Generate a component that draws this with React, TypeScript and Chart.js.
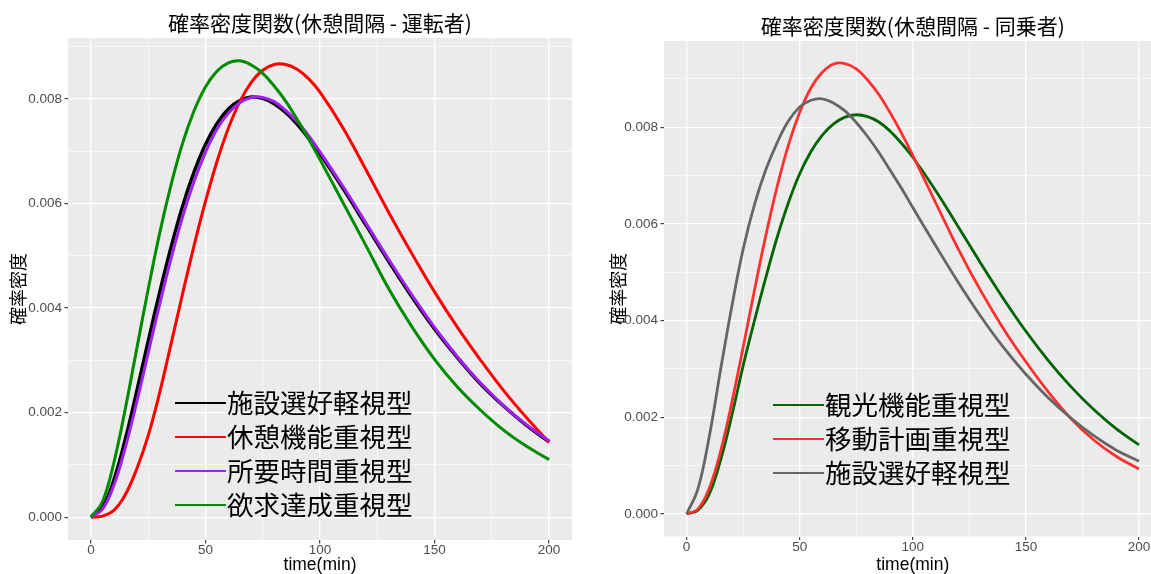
import { useEffect, useRef } from "react";
import { Chart, registerables } from "chart.js";

Chart.register(...registerables);

// Time axis (minutes) shared by every density series
const TIMES = [0, 5, 10, 15, 20, 25, 30, 35, 40, 45, 50, 55, 60, 65, 70, 75, 80, 85, 90, 95, 100, 110, 120, 130, 140, 150, 160, 170, 180, 190, 200];

// Driver (運転者) clusters
const DRIVER_NAMES = ["施設選好軽視型", "休憩機能重視型", "所要時間重視型", "欲求達成重視型"];
const DRIVER_FACILITY = [0, 0.00018, 0.00071, 0.00149, 0.00241, 0.00337, 0.0043, 0.00517, 0.00595, 0.0066, 0.00713, 0.00753, 0.00781, 0.00797, 0.00804, 0.00801, 0.00791, 0.00774, 0.00752, 0.00725, 0.00695, 0.00629, 0.00559, 0.00489, 0.00422, 0.0036, 0.00305, 0.00255, 0.00213, 0.00176, 0.00144];
const DRIVER_REST = [0, 0.00002, 0.00013, 0.00043, 0.00092, 0.00156, 0.00238, 0.00332, 0.00427, 0.00519, 0.00604, 0.0068, 0.00744, 0.00795, 0.00832, 0.00855, 0.00866, 0.00866, 0.00857, 0.00839, 0.00813, 0.00745, 0.00665, 0.00583, 0.00505, 0.00431, 0.00363, 0.00301, 0.00243, 0.00191, 0.00143];
const DRIVER_TIME = [0, 0.00015, 0.00061, 0.00133, 0.0022, 0.00314, 0.00407, 0.00495, 0.00574, 0.00642, 0.00698, 0.00742, 0.00773, 0.00793, 0.00803, 0.00803, 0.00795, 0.00778, 0.00757, 0.0073, 0.00699, 0.00633, 0.00563, 0.00493, 0.00426, 0.00363, 0.00307, 0.00257, 0.00214, 0.00177, 0.00146];
const DRIVER_DESIRE = [0, 0.00029, 0.00104, 0.00207, 0.00322, 0.00436, 0.00543, 0.00636, 0.00715, 0.00777, 0.00823, 0.00853, 0.00869, 0.00873, 0.00865, 0.00849, 0.00825, 0.00796, 0.00761, 0.00724, 0.00684, 0.00602, 0.0052, 0.00437, 0.00365, 0.00302, 0.00249, 0.00205, 0.00167, 0.00136, 0.0011];

// Passenger (同乗者) clusters
const PASSENGER_NAMES = ["観光機能重視型", "移動計画重視型", "施設選好軽視型"];
const PASSENGER_SIGHTSEEING = [0, 0.00008, 0.00041, 0.00111, 0.00204, 0.00307, 0.004, 0.00489, 0.00572, 0.00644, 0.00704, 0.0075, 0.00784, 0.00807, 0.00821, 0.00826, 0.00822, 0.00811, 0.00792, 0.00767, 0.00738, 0.0067, 0.00595, 0.00519, 0.00446, 0.00378, 0.00317, 0.00263, 0.00216, 0.00176, 0.00143];
const PASSENGER_PLAN = [0, 0.0001, 0.00053, 0.00129, 0.00231, 0.00345, 0.00463, 0.00576, 0.00677, 0.00763, 0.00831, 0.00882, 0.00914, 0.00931, 0.00932, 0.00921, 0.00898, 0.00868, 0.0083, 0.00788, 0.00742, 0.00645, 0.00549, 0.00462, 0.00384, 0.00315, 0.00252, 0.00197, 0.00153, 0.00119, 0.00093];
const PASSENGER_FACILITY = [0, 0.00052, 0.0016, 0.00298, 0.0043, 0.00548, 0.0064, 0.00712, 0.00768, 0.00813, 0.00842, 0.00856, 0.00859, 0.0085, 0.00834, 0.0081, 0.00781, 0.00748, 0.00711, 0.00674, 0.00634, 0.00556, 0.0048, 0.00409, 0.00345, 0.00289, 0.0024, 0.00198, 0.00162, 0.00132, 0.00109];

// Labelled ticks; minor grid lines sit halfway between them
const X_TICKS = [0, 50, 100, 150, 200];
const Y_TICKS = [0, 0.002, 0.004, 0.006, 0.008];

const CJK = "'Noto Sans CJK JP', 'Noto Sans', sans-serif";
const SANS = "'Liberation Sans', Arial, sans-serif";
const H = 574;

type PanelSpec = {
  title: string;
  names: string[];
  series: number[][];
  colors: string[];
  widths: number[];
  yMin: number;
  yMax: number;
  left: number;
  width: number;
  axisLeft: number;
  axisBottom: number;
  padRight: number;
  padTop: number;
  yTitlePad: number;
  legendDx: number;
  legendRow0: number;
  legendStep: number;
};

const withMinor = (major: number[], lo: number, hi: number) => {
  const step = major[1] - major[0];
  const out: number[] = [];
  const start = Math.ceil((lo - 1e-12) / (step / 2));
  const end = Math.floor((hi + 1e-12) / (step / 2));
  for (let k = start; k <= end; k++) out.push(+(k * step / 2).toFixed(6));
  return out;
};
const isMajor = (v: number, major: number[]) => major.some((m) => Math.abs(m - v) < 1e-9);

const PANELS: PanelSpec[] = [
  {
    title: "確率密度関数(休憩間隔 - 運転者)",
    names: DRIVER_NAMES,
    series: [DRIVER_FACILITY, DRIVER_REST, DRIVER_TIME, DRIVER_DESIRE],
    colors: ["#000000", "#FF0000", "#A020F0", "#008B00"],
    widths: [3.4, 3, 3, 3],
    yMin: -0.000437,
    yMax: 0.009167,
    left: 0,
    width: 580,
    axisLeft: 68,
    axisBottom: 34,
    padRight: 8,
    padTop: 38,
    yTitlePad: 7,
    legendDx: 107,
    legendRow0: 137,
    legendStep: 34,
  },
  {
    title: "確率密度関数(休憩間隔 - 同乗者)",
    names: PASSENGER_NAMES,
    series: [PASSENGER_SIGHTSEEING, PASSENGER_PLAN, PASSENGER_FACILITY],
    colors: ["#006400", "#FF3030", "#666666"],
    widths: [2.8, 2.8, 2.8],
    yMin: -0.000466,
    yMax: 0.009786,
    left: 580,
    width: 592,
    axisLeft: 84,
    axisBottom: 37.5,
    padRight: 10.4,
    padTop: 41,
    yTitlePad: 27,
    legendDx: 109,
    legendRow0: 131.5,
    legendStep: 34,
  },
];

function DensityPanel({ spec }: { spec: PanelSpec }) {
  const ref = useRef<HTMLCanvasElement>(null);

  useEffect(() => {
    const canvas = ref.current;
    if (!canvas) return;
    const n = spec.series.length;

    const decor = {
      id: "ggDecor",
      beforeDraw(chart: any) {
        const { ctx, chartArea: a } = chart;
        ctx.save();
        ctx.fillStyle = "#EBEBEB";
        ctx.fillRect(a.left, a.top, a.right - a.left, a.bottom - a.top);
        ctx.restore();
      },
      afterDraw(chart: any) {
        const { ctx, chartArea: a } = chart;
        ctx.save();
        ctx.fillStyle = "#000";
        ctx.textAlign = "center";
        ctx.textBaseline = "middle";
        ctx.font = `21px ${CJK}`;
        ctx.fillText(spec.title, (a.left + a.right) / 2, a.top - 15);

        ctx.textAlign = "left";
        ctx.font = `26.5px ${CJK}`;
        spec.names.forEach((name, i) => {
          const y = a.bottom - spec.legendRow0 + i * spec.legendStep;
          const x0 = a.left + spec.legendDx;
          ctx.strokeStyle = spec.colors[i];
          ctx.lineWidth = 2;
          ctx.beginPath();
          ctx.moveTo(x0, y);
          ctx.lineTo(x0 + 51, y);
          ctx.stroke();
          ctx.fillStyle = "#000";
          ctx.fillText(name, x0 + 52, y);
        });
        ctx.restore();
      },
    };

    const chart = new Chart(canvas, {
      type: "line",
      data: {
        datasets: spec.series.map((vals, i) => ({
          label: spec.names[i],
          data: TIMES.map((t, j) => ({ x: t, y: vals[j] })),
          borderColor: spec.colors[i],
          backgroundColor: spec.colors[i],
          borderWidth: spec.widths[i],
          pointRadius: 0,
          fill: false,
          tension: 0.4,
          borderJoinStyle: "round" as const,
          order: n - i,
        })),
      },
      options: {
        responsive: false,
        animation: false,
        devicePixelRatio: 1,
        layout: { padding: { left: 0, right: spec.padRight, top: spec.padTop, bottom: 0 } },
        plugins: { legend: { display: false }, tooltip: { enabled: false }, title: { display: false } },
        scales: {
          x: {
            type: "linear",
            min: -10,
            max: 210,
            border: { display: false },
            afterBuildTicks: (s: any) => {
              s.ticks = withMinor(X_TICKS, -10, 210).map((v) => ({ value: v }));
            },
            afterFit: (s: any) => {
              s.height = spec.axisBottom;
            },
            grid: {
              color: "#FFFFFF",
              lineWidth: (c: any) => (isMajor(c.tick.value, X_TICKS) ? 1.3 : 0.6),
              tickColor: (c: any) => (isMajor(c.tick.value, X_TICKS) ? "#333333" : "rgba(0,0,0,0)"),
              tickWidth: 1.1,
              tickLength: 3.5,
            },
            ticks: {
              autoSkip: false,
              maxRotation: 0,
              padding: -1,
              color: "#4D4D4D",
              font: { family: SANS, size: 13.5 },
              callback: (v: any) => (isMajor(Number(v), X_TICKS) ? String(v) : ""),
            },
            title: {
              display: true,
              text: "time(min)",
              color: "#000",
              font: { family: SANS, size: 17.5 },
              padding: { top: 0, bottom: -2 },
            },
          },
          y: {
            type: "linear",
            min: spec.yMin,
            max: spec.yMax,
            border: { display: false },
            afterBuildTicks: (s: any) => {
              s.ticks = withMinor(Y_TICKS, spec.yMin, spec.yMax).map((v) => ({ value: v }));
            },
            afterFit: (s: any) => {
              s.width = spec.axisLeft;
            },
            grid: {
              color: "#FFFFFF",
              lineWidth: (c: any) => (isMajor(c.tick.value, Y_TICKS) ? 1.3 : 0.6),
              tickColor: (c: any) => (isMajor(c.tick.value, Y_TICKS) ? "#333333" : "rgba(0,0,0,0)"),
              tickWidth: 1.1,
              tickLength: 3.5,
            },
            ticks: {
              autoSkip: false,
              padding: 2.5,
              color: "#4D4D4D",
              font: { family: SANS, size: 13.5 },
              callback: (v: any) => (isMajor(Number(v), Y_TICKS) ? Number(v).toFixed(3) : ""),
            },
            title: {
              display: true,
              text: "確率密度",
              color: "#000",
              font: { family: CJK, size: 18 },
              padding: { top: spec.yTitlePad, bottom: 0 },
            },
          },
        },
      },
      plugins: [decor],
    } as any);

    return () => chart.destroy();
  }, [spec]);

  return (
    <canvas
      ref={ref}
      width={spec.width}
      height={H}
      style={{ position: "absolute", left: spec.left, top: 0, width: spec.width, height: H }}
    />
  );
}

export default function App() {
  return (
    <div
      style={{
        position: "fixed",
        left: 0,
        top: 0,
        width: 1151,
        height: H,
        overflow: "hidden",
        background: "#FFFFFF",
      }}
    >
      {PANELS.map((p, i) => (
        <DensityPanel key={i} spec={p} />
      ))}
    </div>
  );
}
